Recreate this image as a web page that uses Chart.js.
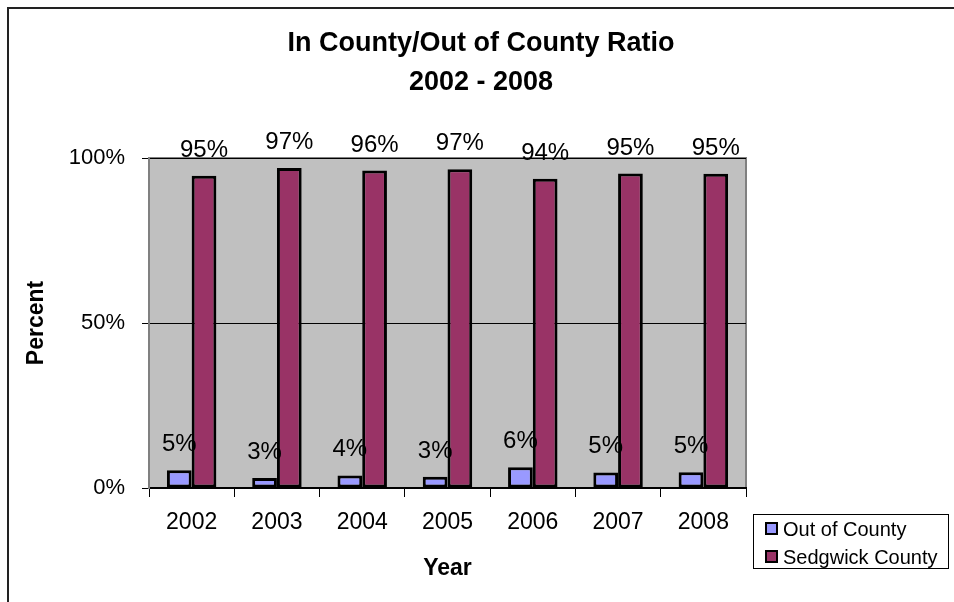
<!DOCTYPE html>
<html lang="en">
<head>
    <meta charset="UTF-8">
    <title>In County/Out of County Ratio</title>
    <style>
        body {
            margin: 0;
            padding: 0;
            background-color: white;
        }

        canvas {
            display: block;
        }
    </style>
</head>
<body>
    <canvas id="chart" width="954" height="602"></canvas>

    <script src="https://cdn.jsdelivr.net/npm/chart.js"></script>
    <script>
        // Dados
        const years = ['2002', '2003', '2004', '2005', '2006', '2007', '2008'];
        const outOfCounty = [5.4, 3.0, 3.8, 3.4, 6.3, 4.7, 4.8];
        const sedgwickCounty = [94.6, 97.0, 96.2, 96.6, 93.7, 95.3, 95.2];
        const seriesNames = ['Out of County', 'Sedgwick County'];
        const seriesColors = ['#9999ff', '#993366'];

        const fonte = '"Liberation Sans", Arial, sans-serif';

        // Fundo cinza da área do gráfico e moldura externa
        const moldura = {
            id: 'moldura',
            beforeDraw(chart) {
                const { ctx, chartArea: a } = chart;
                ctx.save();
                ctx.fillStyle = '#c0c0c0';
                ctx.fillRect(a.left, a.top, a.right - a.left, a.bottom - a.top);
                ctx.strokeStyle = '#808080';
                ctx.lineWidth = 2;
                ctx.strokeRect(a.left, a.top, a.right - a.left, a.bottom - a.top);
                ctx.restore();
            },
            afterDraw(chart) {
                const ctx = chart.ctx;
                ctx.save();
                ctx.fillStyle = '#222';
                ctx.fillRect(7, 7, 947, 2);
                ctx.fillRect(7, 7, 2, 595);
                ctx.restore();
            }
        };

        // Rótulos de valor acima das barras
        const rotulos = {
            id: 'rotulos',
            afterDatasetsDraw(chart) {
                const ctx = chart.ctx;
                ctx.save();
                ctx.font = '24px ' + fonte;
                ctx.fillStyle = '#000';
                ctx.textAlign = 'center';
                ctx.textBaseline = 'alphabetic';
                chart.data.datasets.forEach((ds, i) => {
                    chart.getDatasetMeta(i).data.forEach((bar, j) => {
                        ctx.fillText(Math.round(ds.data[j]) + '%', bar.x, bar.y - 19);
                    });
                });
                ctx.restore();
            }
        };

        // Legenda com caixa, no canto inferior direito
        const legenda = {
            id: 'legenda',
            afterDraw(chart) {
                const ctx = chart.ctx;
                ctx.save();
                ctx.strokeStyle = '#000';
                ctx.lineWidth = 1;
                ctx.strokeRect(753.5, 514.5, 195, 54);
                ctx.font = '20px ' + fonte;
                ctx.textBaseline = 'middle';
                chart.data.datasets.forEach((ds, i) => {
                    const y = 529 + i * 28;
                    ctx.fillStyle = ds.backgroundColor;
                    ctx.fillRect(766, y - 6, 11, 11);
                    ctx.strokeStyle = '#000';
                    ctx.lineWidth = 2;
                    ctx.strokeRect(766, y - 6, 11, 11);
                    ctx.fillStyle = '#000';
                    ctx.fillText(ds.label, 783, y + 1);
                });
                ctx.restore();
            }
        };

        const ctx = document.getElementById('chart').getContext('2d');
        new Chart(ctx, {
            type: 'bar',
            data: {
                labels: years,
                datasets: [
                    {
                        label: seriesNames[0],
                        data: outOfCounty,
                        backgroundColor: seriesColors[0],
                        borderColor: '#000',
                        borderWidth: 3,
                        borderSkipped: false
                    },
                    {
                        label: seriesNames[1],
                        data: sedgwickCounty,
                        backgroundColor: seriesColors[1],
                        borderColor: '#000',
                        borderWidth: 3,
                        borderSkipped: false
                    }
                ]
            },
            options: {
                responsive: false,
                animation: false,
                layout: {
                    padding: { left: 8, top: 8, right: 0, bottom: 0 }
                },
                datasets: {
                    bar: {
                        categoryPercentage: 0.58,
                        barPercentage: 1
                    }
                },
                plugins: {
                    legend: { display: false },
                    tooltip: { enabled: false },
                    title: {
                        display: true,
                        text: ['In County/Out of County Ratio', '2002 - 2008'],
                        color: '#000',
                        font: { family: fonte, size: 27, weight: 'bold', lineHeight: 39 / 27 },
                        padding: { top: 16.5, bottom: 55.5 }
                    }
                },
                scales: {
                    x: {
                        grid: {
                            offset: true,
                            drawOnChartArea: false,
                            tickLength: 9,
                            color: '#000',
                            lineWidth: 1
                        },
                        border: { color: '#000', width: 2 },
                        ticks: {
                            color: '#000',
                            font: { family: fonte, size: 23 },
                            padding: 12,
                            maxRotation: 0
                        },
                        title: {
                            display: true,
                            text: 'Year',
                            color: '#000',
                            font: { family: fonte, size: 23, weight: 'bold' },
                            padding: { top: 0, bottom: 20 }
                        },
                        afterFit: s => { s.height = 114; }
                    },
                    y: {
                        min: 0,
                        max: 100,
                        grid: {
                            color: '#000',
                            lineWidth: 1,
                            tickLength: 7
                        },
                        border: { color: '#808080', width: 2 },
                        ticks: {
                            stepSize: 50,
                            color: '#000',
                            font: { family: fonte, size: 22 },
                            padding: 17,
                            callback: v => v + '%'
                        },
                        title: {
                            display: true,
                            text: 'Percent',
                            color: '#000',
                            font: { family: fonte, size: 23, weight: 'bold' },
                            padding: { top: 15, bottom: 0 }
                        },
                        afterFit: s => { s.width = 141; }
                    },
                    // eixo vazio só para reservar o espaço da legenda à direita
                    espaco: {
                        type: 'linear',
                        position: 'right',
                        display: true,
                        grid: { display: false, drawTicks: false },
                        border: { display: false },
                        ticks: { display: false },
                        afterFit: s => { s.width = 208; }
                    }
                }
            },
            plugins: [moldura, rotulos, legenda]
        });
    </script>
</body>
</html>
